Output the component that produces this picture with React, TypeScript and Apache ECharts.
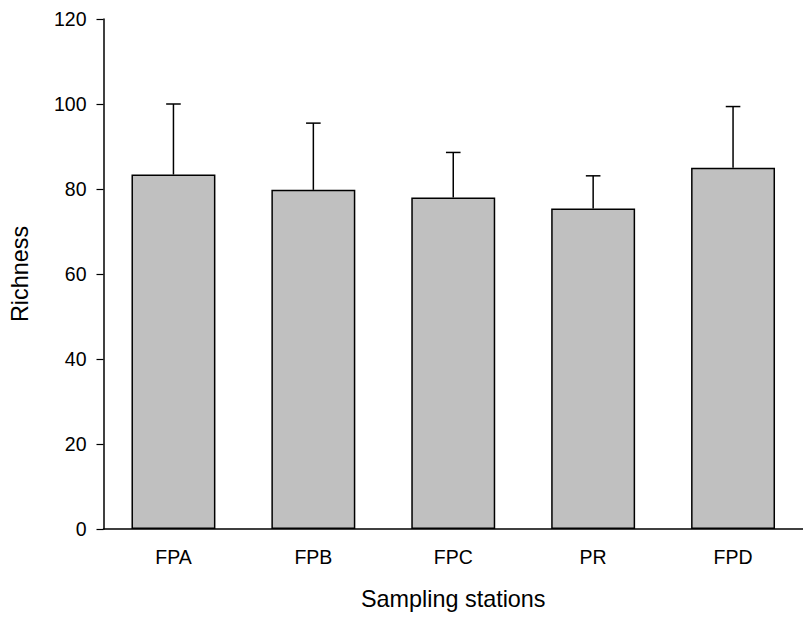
import React, { useEffect, useRef } from "react";
import * as echarts from "echarts";

const stations = ["FPA", "FPB", "FPC", "PR", "FPD"];
const richnessMean = [83.4, 79.8, 78.0, 75.4, 85.0];
const richnessUpper = [100.0, 95.5, 88.6, 83.1, 99.4];
const yTicks = { min: 0, max: 120, interval: 20 };

const FONT = 'Arial, "Liberation Sans", Helvetica, sans-serif';

export default function App() {
  const ref = useRef<HTMLDivElement>(null);
  useEffect(() => {
    document.body.style.margin = "0";
    const chart = echarts.init(ref.current!, null, { renderer: "svg" });
    const errData = stations.map((_, i) => [i, richnessMean[i], richnessUpper[i]]);
    chart.setOption({
      animation: false,
      backgroundColor: "#fff",
      grid: { left: 103.5, width: 706.2, top: 19, height: 510, containLabel: false },
      xAxis: {
        type: "category",
        data: stations,
        boundaryGap: true,
        name: "Sampling stations",
        nameLocation: "middle",
        nameGap: 58,
        nameTextStyle: { fontFamily: FONT, fontSize: 23.4, color: "#000" },
        axisLine: { lineStyle: { color: "#000", width: 1.5 } },
        axisTick: { alignWithLabel: true, length: 7, lineStyle: { color: "#000", width: 1.2 } },
        axisLabel: { fontFamily: FONT, fontSize: 19.5, color: "#000", margin: 18 },
        splitLine: { show: false },
      },
      yAxis: {
        type: "value",
        min: yTicks.min,
        max: yTicks.max,
        interval: yTicks.interval,
        name: "Richness",
        nameLocation: "middle",
        nameGap: 72,
        nameRotate: 90,
        nameTextStyle: { fontFamily: FONT, fontSize: 23.4, color: "#000" },
        axisLine: { show: true, lineStyle: { color: "#000", width: 1.5 } },
        axisTick: { show: true, length: 7, lineStyle: { color: "#000", width: 1.2 } },
        axisLabel: { fontFamily: FONT, fontSize: 19.5, color: "#000", margin: 17 },
        splitLine: { show: false },
      },
      series: [
        {
          type: "bar",
          data: richnessMean,
          barWidth: "60%",
          itemStyle: { color: "#c0c0c0", borderColor: "#000", borderWidth: 1.5 },
          z: 2,
        },
        {
          type: "custom",
          data: errData,
          z: 3,
          renderItem: (params: any, api: any) => {
            const x = api.value(0);
            const lo = api.coord([x, api.value(1)]);
            const hi = api.coord([x, api.value(2)]);
            const half = 7.3;
            const style = { stroke: "#000", lineWidth: 1.5 };
            return {
              type: "group",
              children: [
                { type: "line", shape: { x1: lo[0], y1: lo[1], x2: hi[0], y2: hi[1] }, style },
                { type: "line", shape: { x1: hi[0] - half, y1: hi[1], x2: hi[0] + half, y2: hi[1] }, style },
              ],
            };
          },
        },
      ],
    });
    return () => chart.dispose();
  }, []);
  return <div ref={ref} style={{ position: "fixed", left: 0, top: 0, width: 803, height: 621 }} />;
}
